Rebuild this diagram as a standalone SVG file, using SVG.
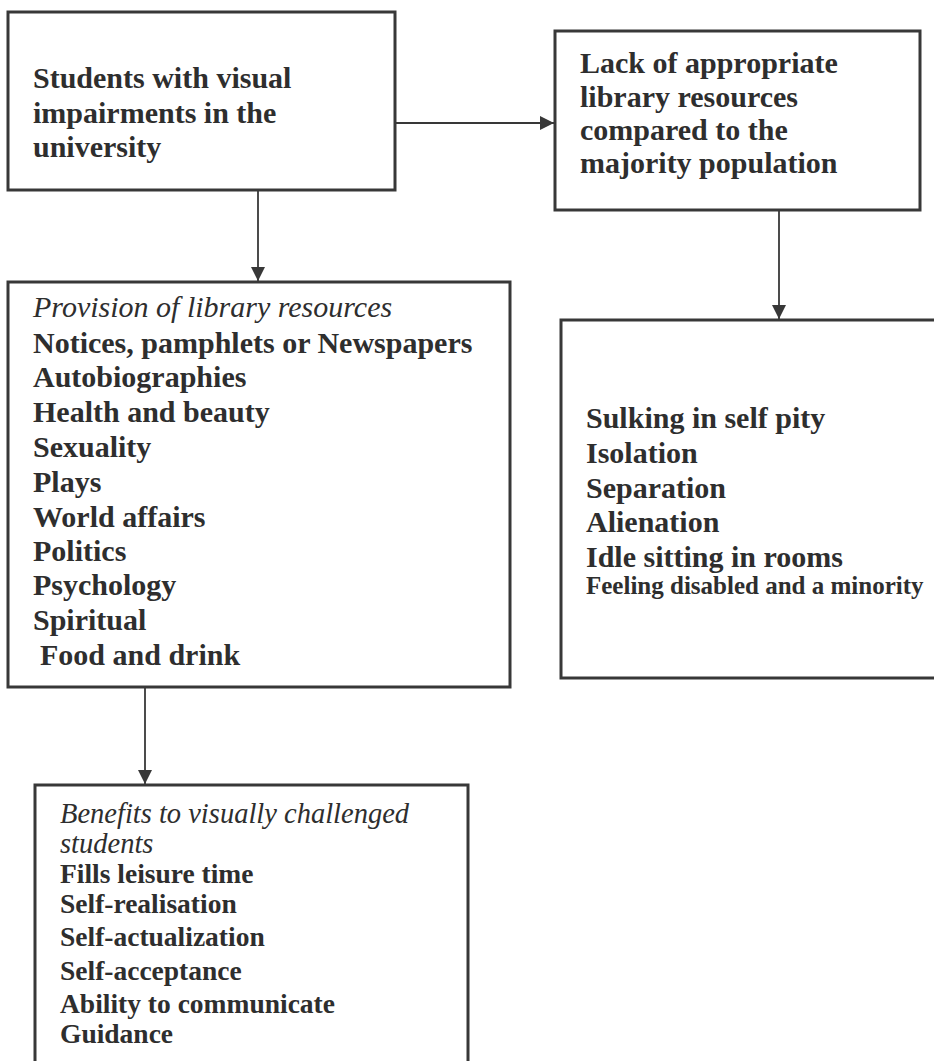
<svg xmlns="http://www.w3.org/2000/svg" width="934" height="1061" viewBox="0 0 934 1061">
<style>
.box{fill:none;stroke:#383838;stroke-width:3}
.t{font-family:"Liberation Serif","Times New Roman",serif;font-weight:bold;fill:#2e2e2e}
.i{font-style:italic;font-weight:normal}
.con{stroke:#383838;stroke-width:1.8;fill:none}
</style>
<defs>
<marker id="ah" viewBox="0 0 14 14" refX="14" refY="7" markerWidth="14" markerHeight="14" markerUnits="userSpaceOnUse" orient="auto">
<path d="M0,0 L14,7 L0,14 z" fill="#383838"/>
</marker>
</defs>
<rect width="934" height="1061" fill="#fff"/>
<g id="connectors">
<line class="con" x1="395" y1="123" x2="554" y2="123" marker-end="url(#ah)"/>
<line class="con" x1="258" y1="190" x2="258" y2="281" marker-end="url(#ah)"/>
<line class="con" x1="779" y1="210" x2="779" y2="319" marker-end="url(#ah)"/>
<line class="con" x1="145" y1="687" x2="145" y2="784" marker-end="url(#ah)"/>
</g>
<g id="n1">
<rect class="box" x="8" y="12" width="387" height="178"/>
<text class="t" font-size="30"><tspan x="33" y="88">Students with visual</tspan><tspan x="33" y="123">impairments in the</tspan><tspan x="33" y="157">university</tspan></text>
</g>
<g id="n2">
<rect class="box" x="555" y="31" width="365" height="179"/>
<text class="t" font-size="30"><tspan x="580" y="73">Lack of appropriate</tspan><tspan x="580" y="107">library resources</tspan><tspan x="580" y="140">compared to the</tspan><tspan x="580" y="173">majority population</tspan></text>
</g>
<g id="n3">
<rect class="box" x="8" y="282" width="502" height="405"/>
<text class="t" font-size="30"><tspan class="i" x="33" y="317">Provision of library resources</tspan><tspan x="33" y="353">Notices, pamphlets or Newspapers</tspan><tspan x="33" y="387">Autobiographies</tspan><tspan x="33" y="422">Health and beauty</tspan><tspan x="33" y="457">Sexuality</tspan><tspan x="33" y="492">Plays</tspan><tspan x="33" y="527">World affairs</tspan><tspan x="33" y="561">Politics</tspan><tspan x="33" y="595">Psychology</tspan><tspan x="33" y="630">Spiritual</tspan><tspan x="40" y="665">Food and drink</tspan></text>
</g>
<g id="n4">
<rect class="box" x="561" y="320" width="390" height="358"/>
<text class="t" font-size="30"><tspan x="586" y="428">Sulking in self pity</tspan><tspan x="586" y="463">Isolation</tspan><tspan x="586" y="498">Separation</tspan><tspan x="586" y="532">Alienation</tspan><tspan x="586" y="567">Idle sitting in rooms</tspan><tspan x="586" y="594" font-size="25">Feeling disabled and a minority</tspan></text>
</g>
<g id="n5">
<rect class="box" x="35" y="785" width="433" height="300"/>
<text class="t" font-size="27.5"><tspan class="i" font-size="28.5" x="60" y="823">Benefits to visually challenged</tspan><tspan class="i" font-size="28.5" x="60" y="853">students</tspan><tspan x="60" y="883">Fills leisure time</tspan><tspan x="60" y="913">Self-realisation</tspan><tspan x="60" y="946">Self-actualization</tspan><tspan x="60" y="980">Self-acceptance</tspan><tspan x="60" y="1013">Ability to communicate</tspan><tspan x="60" y="1043">Guidance</tspan></text>
</g>
</svg>
